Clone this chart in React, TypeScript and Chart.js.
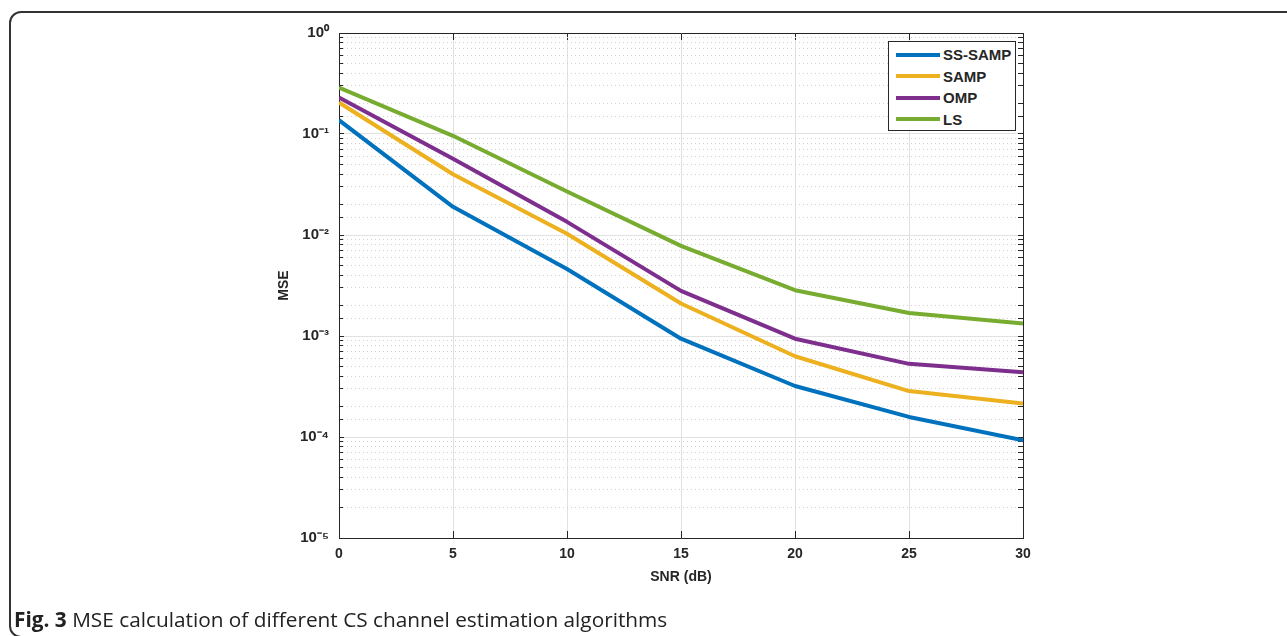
import React, { useEffect, useRef } from "react";
import { Chart, registerables } from "chart.js";

Chart.register(...registerables);

// ---- data ----
const snr = [0, 5, 10, 15, 20, 25, 30];
const ssSamp = [0.137, 0.019, 0.0046, 0.00094, 0.00032, 0.000158, 0.0000927];
const samp = [0.205, 0.04, 0.0103, 0.0021, 0.00063, 0.000285, 0.000214];
const omp = [0.23, 0.057, 0.0135, 0.0028, 0.00094, 0.00053, 0.000437];
const ls = [0.288, 0.096, 0.027, 0.0078, 0.00284, 0.00169, 0.00133];

const seriesNames = ["SS-SAMP", "SAMP", "OMP", "LS"];
const seriesColors = ["#0072BD", "#EDB120", "#7E2F8E", "#77AC30"];
const seriesValues = [ssSamp, samp, omp, ls];

const xMin = 0;
const xMax = 30;
const xStep = 5;
const yMin = 1e-5;
const yMax = 1;
const yTickExponents = [0, -1, -2, -3, -4, -5];
const yTickLabels = ["10⁰", "10⁻¹", "10⁻²", "10⁻³", "10⁻⁴", "10⁻⁵"];

const xTitle = "SNR (dB)";
const yTitle = "MSE";
const captionBold = "Fig. 3";
const captionText = "MSE calculation of different CS channel estimation algorithms";

const AXIS_COLOR = "#262626";
const FONT = "'Liberation Sans', Arial, sans-serif";

function majorExp(v: number): number | null {
  const l = Math.log10(v);
  const r = Math.round(l);
  return Math.abs(l - r) < 1e-6 ? r : null;
}

export default function App() {
  const canvasRef = useRef<HTMLCanvasElement | null>(null);

  useEffect(() => {
    const canvas = canvasRef.current;
    if (!canvas) return;
    const chart = new Chart(canvas, {
      type: "line",
      data: {
        datasets: seriesNames.map((name, i) => ({
          label: name,
          data: snr.map((x, j) => ({ x, y: seriesValues[i][j] })),
          borderColor: seriesColors[i],
          backgroundColor: seriesColors[i],
          borderWidth: 4,
          pointRadius: 0,
          tension: 0,
          fill: false,
          xAxisID: "x",
          yAxisID: "y",
          borderJoinStyle: "round" as const,
        })),
      },
      options: {
        responsive: false,
        maintainAspectRatio: false,
        animation: false,
        layout: { padding: { left: 272, right: 264, top: 33, bottom: 46 } },
        plugins: {
          legend: { display: false },
          tooltip: { enabled: false },
        },
        scales: {
          x: {
            type: "linear",
            position: "bottom",
            min: xMin,
            max: xMax,
            ticks: {
              stepSize: xStep,
              color: AXIS_COLOR,
              padding: 15,
              font: { family: FONT, size: 14, weight: "bold" },
            },
            grid: {
              color: "#e1e1e1",
              lineWidth: 1,
              tickLength: -7,
              tickColor: AXIS_COLOR,
            },
            border: { display: true, color: AXIS_COLOR, width: 1 },
            title: {
              display: true,
              text: xTitle,
              color: AXIS_COLOR,
              font: { family: FONT, size: 14, weight: "bold" },
              padding: { top: 4, bottom: 4 },
            },
            afterFit: (s: any) => {
              s.height = 52;
            },
          },
          xTop: {
            type: "linear",
            position: "top",
            min: xMin,
            max: xMax,
            ticks: { stepSize: xStep, display: false },
            grid: {
              drawOnChartArea: false,
              tickLength: -7,
              tickColor: AXIS_COLOR,
            },
            border: { display: true, color: AXIS_COLOR, width: 1 },
            afterFit: (s: any) => {
              s.height = 0;
            },
          },
          y: {
            type: "logarithmic",
            position: "left",
            min: yMin,
            max: yMax,
            ticks: {
              autoSkip: false,
              color: AXIS_COLOR,
              padding: 15,
              font: { family: FONT, size: 15, weight: "bold" },
              callback: (value: any) => {
                const e = majorExp(Number(value));
                if (e === null) return "";
                const idx = yTickExponents.indexOf(e);
                return idx >= 0 ? yTickLabels[idx] : "";
              },
            },
            grid: {
              color: (ctx: any) =>
                ctx.tick && majorExp(ctx.tick.value) !== null ? "#e1e1e1" : "rgba(0,0,0,0)",
              lineWidth: 1,
              tickLength: -5,
              tickColor: AXIS_COLOR,
            },
            border: { display: true, color: AXIS_COLOR, width: 1 },
            title: {
              display: true,
              text: yTitle,
              color: AXIS_COLOR,
              font: { family: FONT, size: 14, weight: "bold" },
              padding: { top: 4, bottom: 4 },
            },
            afterFit: (s: any) => {
              s.width = 67;
            },
          },
          yMinor: {
            type: "logarithmic",
            position: "left",
            min: yMin,
            max: yMax,
            ticks: { display: false, autoSkip: false },
            grid: {
              drawTicks: false,
              color: (ctx: any) =>
                ctx.tick && majorExp(ctx.tick.value) === null ? "#d0d0d0" : "rgba(0,0,0,0)",
              lineWidth: 1,
            },
            border: { display: false, dash: [1, 3] },
            afterFit: (s: any) => {
              s.width = 0;
            },
          },
          yRight: {
            type: "logarithmic",
            position: "right",
            min: yMin,
            max: yMax,
            ticks: { display: false, autoSkip: false },
            grid: {
              drawOnChartArea: false,
              tickLength: -5,
              tickColor: AXIS_COLOR,
            },
            border: { display: true, color: AXIS_COLOR, width: 1 },
            afterFit: (s: any) => {
              s.width = 0;
            },
          },
        },
      } as any,
    });
    return () => chart.destroy();
  }, []);

  return (
    <div
      style={{
        position: "fixed",
        left: 0,
        top: 0,
        width: 1287,
        height: 636,
        overflow: "hidden",
        background: "#fff",
      }}
    >
      <div
        style={{
          position: "absolute",
          left: 9,
          top: 11,
          width: 1400,
          height: 627,
          border: "2px solid #333",
          borderRadius: 12,
          boxSizing: "border-box",
        }}
      />
      <canvas
        ref={canvasRef}
        width={1287}
        height={636}
        style={{ position: "absolute", left: 0, top: 0, width: 1287, height: 636 }}
      />
      <div
        style={{
          position: "absolute",
          left: 888,
          top: 41,
          width: 128,
          height: 90,
          border: `1px solid ${AXIS_COLOR}`,
          background: "#fff",
          boxSizing: "border-box",
          fontFamily: FONT,
          fontWeight: "bold",
          fontSize: 15,
          color: AXIS_COLOR,
        }}
      >
        {seriesNames.map((name, i) => (
          <div
            key={name}
            style={{
              position: "absolute",
              left: 7,
              top: 1.5 + i * 21.5,
              height: 22,
              display: "flex",
              alignItems: "center",
              whiteSpace: "nowrap",
            }}
          >
            <span
              style={{
                display: "inline-block",
                width: 44,
                height: 4,
                background: seriesColors[i],
                marginRight: 3,
              }}
            />
            <span>{name}</span>
          </div>
        ))}
      </div>
      <div
        style={{
          position: "absolute",
          left: 14,
          top: 606,
          fontFamily: "'Open Sans', 'Noto Sans', sans-serif",
          fontSize: 20.8,
          lineHeight: "26px",
          color: "#222",
          whiteSpace: "nowrap",
        }}
      >
        <b>{captionBold}</b> {captionText}
      </div>
    </div>
  );
}
